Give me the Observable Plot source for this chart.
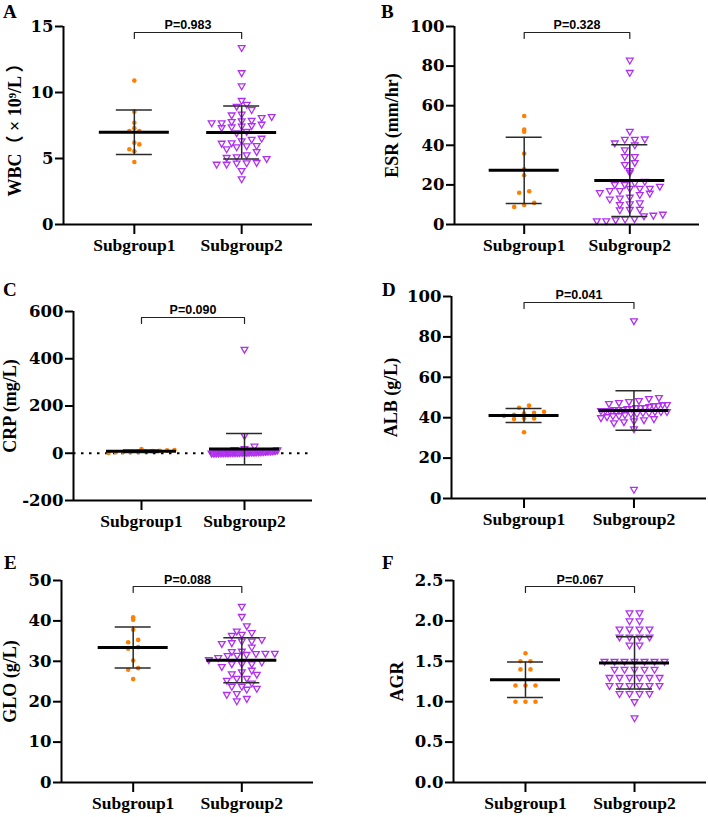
<!DOCTYPE html>
<html><head><meta charset="utf-8">
<script src="https://cdn.jsdelivr.net/npm/d3@7"></script>
<script src="https://cdn.jsdelivr.net/npm/@observablehq/plot@0.6"></script>
<style>
body{margin:0;background:#fff;}
#fig{position:relative;width:708px;height:817px;overflow:hidden;background:#fff;}
.panel{position:absolute;}
.letter{position:absolute;font-family:"Liberation Serif","Times New Roman",serif;font-weight:bold;font-size:19px;line-height:1;color:#000;}
</style></head><body><div id="fig"></div>
<script>
// ---------- data ----------
const groups = ["Subgroup1", "Subgroup2"];
const panelLetters = ["A", "B", "C", "D", "E", "F"];
const yTitles = ["WBC（ × 10⁹/L ）", "ESR (mm/hr)", "CRP (mg/L)", "ALB (g/L)", "GLO (g/L)", "AGR"];
const pLabels = ["P=0.983", "P=0.328", "P=0.090", "P=0.041", "P=0.088", "P=0.067"];

const wbcTicks = [0, 5, 10, 15];
const esrTicks = [0, 20, 40, 60, 80, 100];
const crpTicks = [-200, 0, 200, 400, 600];
const albTicks = [0, 20, 40, 60, 80, 100];
const gloTicks = [0, 10, 20, 30, 40, 50];
const agrTicks = [0, 0.5, 1.0, 1.5, 2.0, 2.5];

const wbc1 = [10.9, 8.55, 7.7, 7.3, 7.08, 7.08, 6.2, 6.07, 5.7, 5.55, 4.74];
const wbc2 = [13.4, 11.5, 10.5, 9.4, 9.1, 8.96, 8.7, 8.36, 8.3, 8.18, 8.1, 7.9, 7.85, 7.8, 7.7, 7.7, 7.6, 7.5, 7.45, 7.4, 7.35, 7.05, 6.95, 6.54, 6.46, 6.34, 6.19, 6.16, 5.98, 5.96, 5.88, 5.73, 5.53, 5.28, 5.13, 5.08, 5.0, 4.7, 4.67, 4.65, 4.57, 4.57, 4.09, 3.46];

const esr1 = [54.8, 47.9, 46.9, 35.8, 27.9, 24.9, 16.8, 16.0, 10.9, 9.9, 8.9];
const esr2 = [83.0, 76.8, 47.1, 43.0, 43.2, 43.0, 41.2, 40.2, 37.7, 34.3, 34.3, 31.3, 30.3, 27.2, 26.4, 21.8, 21.0, 20.2, 20.2, 19.3, 18.3, 18.3, 18.3, 17.1, 17.1, 16.1, 15.8, 15.1, 13.3, 13.8, 12.8, 10.4, 10.9, 10.1, 7.7, 7.4, 7.6, 4.4, 4.7, 5.2, 1.9, 2.7, 2.4, 2.9, 1.9];

const crp1 = [5, 18, 10, 14, 1, 12, 6, 8, 5, 4, 9];
const crp2 = [440, 75, 30, 20, 16, 14, 12, 11, 10, 9, 9, 8, 8, 7, 7, 6, 6, 6, 5, 5, 5, 5, 4, 4, 4, 4, 4, 3, 3, 3, 3, 3, 3, 2, 2, 2, 2, 2, 2, 1, 1, 1, 1, 1];

const alb1 = [46.0, 44.9, 42.9, 42.4, 42.1, 41.4, 40.9, 39.6, 39.6, 39.3, 32.8];
const alb2 = [88, 4.5, 50, 49.5, 48.5, 48, 47.5, 47, 46.5, 46.5, 46, 46, 45.5, 45, 45, 45, 44.5, 44.5, 44, 44, 44, 43.5, 43.5, 43.5, 43, 43, 43, 42.5, 42.5, 42, 42, 41.5, 41, 41, 40.5, 40, 39.5, 39, 38.5, 38, 37.5, 34.5];

const glo1 = [40.9, 40.3, 37.8, 35.3, 34.7, 33.5, 33.1, 30.2, 27.9, 28.3, 25.6];
const glo2 = [43.6, 41.1, 38.8, 37.5, 37.1, 36.7, 36.4, 35.4, 34.6, 35.0, 35.0, 34.4, 33.5, 32.5, 32.4, 32.0, 32.0, 31.9, 31.5, 31.7, 30.9, 31.4, 30.4, 29.8, 29.4, 29.4, 29.4, 28.7, 26.9, 26.8, 27.4, 27.8, 25.3, 25.8, 25.8, 24.6, 23.3, 23.8, 23.1, 23.8, 21.8, 22.0, 20.8, 20.2];

const agr1 = [1.6, 1.5, 1.5, 1.4, 1.4, 1.2, 1.2, 1.2, 1.0, 1.0, 1.0];
const agr2 = [2.1, 2.1, 2.0, 2.0, 1.9, 1.9, 1.9, 1.9, 1.8, 1.8, 1.8, 1.8, 1.7, 1.7, 1.5, 1.5, 1.5, 1.5, 1.5, 1.5, 1.5, 1.4, 1.4, 1.4, 1.4, 1.4, 1.3, 1.3, 1.3, 1.3, 1.3, 1.3, 1.2, 1.2, 1.2, 1.2, 1.2, 1.2, 1.1, 1.1, 1.1, 1.1, 1.0, 0.8];

// ---------- layout / style ----------
const ORANGE = "#FF8000", PURPLE = "#B030F0";
const XDOM = [0.34, 2.66];
const panels = [
  {g1: wbc1, g2: wbc2, ticks: wbcTicks, left: 0,   top: 0,   h: 270, m: [26, 42, 46, 63],  tdx: -48, lx: 3,  ly: 2, pdy: -2},
  {g1: esr1, g2: esr2, ticks: esrTicks, left: 354, top: 0,   h: 270, m: [26, 9, 46, 100],  tdx: -62, lx: 27, ly: 2, pdy: -2},
  {g1: crp1, g2: crp2, ticks: crpTicks, left: 0,   top: 270, h: 270, m: [41, 42, 40, 73],  tdx: -63, lx: 3,  ly: 10, pdy: -2},
  {g1: alb1, g2: alb2, ticks: albTicks, left: 354, top: 270, h: 270, m: [26, 2, 42, 97],   tdx: -60, lx: 28, ly: 10, pdy: -2},
  {g1: glo1, g2: glo2, ticks: gloTicks, left: 0,   top: 540, h: 277, m: [40, 41, 35, 61],  tdx: -51, lx: 4,  ly: 13, pdy: -1},
  {g1: agr1, g2: agr2, ticks: agrTicks, left: 354, top: 540, h: 277, m: [40, 2, 35, 99],   tdx: -56, lx: 28, ly: 13, pdy: -1, fmt: d3.format(".1f")}
];

function scatterLayout(values, g, pxPerY, pxPerX) {
  const binPx = 7, stepPx = 10, maxHalf = 33;
  const bins = d3.group(values.map(v => ({v})), d => Math.round(d.v * pxPerY / binPx));
  const out = [];
  for (const [, arr] of bins) {
    arr.sort((a, b) => a.v - b.v);
    const k = arr.length;
    const step = k > 1 ? Math.min(stepPx, 2 * maxHalf / (k - 1)) : stepPx;
    arr.forEach((d, j) => out.push({x: g + (j - (k - 1) / 2) * step / pxPerX, y: d.v, g}));
  }
  return out;
}

const fig = document.getElementById("fig");
panels.forEach((p, i) => {
  const W = 354;
  const [mt, mr, mb, ml] = p.m;
  const ymin = p.ticks[0], ymax = p.ticks[p.ticks.length - 1];
  const plotH = p.h - mt - mb, plotW = W - ml - mr;
  const pxPerY = plotH / (ymax - ymin);
  const pxPerX = plotW / (XDOM[1] - XDOM[0]);
  const pts1 = scatterLayout(p.g1, 1, pxPerY, pxPerX);
  const pts2 = scatterLayout(p.g2, 2, pxPerY, pxPerX);
  const stats = [p.g1, p.g2].map((vals, k) => ({g: k + 1, m: d3.mean(vals), s: d3.deviation(vals)}));
  const meanHalf = 35 / pxPerX, capHalf = 18 / pxPerX;
  const unitY = 1 / pxPerY;
  const yb = ymax - 6 * unitY, yl = ymax - 12 * unitY;
  const bracket = [{x: 1, y: yl}, {x: 1, y: yb}, {x: 2, y: yb}, {x: 2, y: yl}];

  const marks = [];
  if (ymin < 0) marks.push(Plot.ruleY([0], {stroke: "#000", strokeWidth: 2, strokeDasharray: "2.5,5.5"}));
  marks.push(
    Plot.dot(pts1, {x: "x", y: "y", r: 2.3, fill: ORANGE, stroke: "none"}),
    Plot.dot(pts2, {x: "x", y: "y", r: 2.5, symbol: "triangle", rotate: 180, stroke: PURPLE, strokeWidth: 1.3, fill: "none"}),
    Plot.ruleX(stats, {x: "g", y1: d => d.m - d.s, y2: d => d.m + d.s, stroke: "#2a2a2a", strokeWidth: 1.5}),
    Plot.ruleY(stats, {y: d => d.m + d.s, x1: d => d.g - capHalf, x2: d => d.g + capHalf, stroke: "#2a2a2a", strokeWidth: 1.5}),
    Plot.ruleY(stats, {y: d => d.m - d.s, x1: d => d.g - capHalf, x2: d => d.g + capHalf, stroke: "#2a2a2a", strokeWidth: 1.5}),
    Plot.ruleY(stats, {y: "m", x1: d => d.g - meanHalf, x2: d => d.g + meanHalf, stroke: "#000", strokeWidth: 3}),
    Plot.line(bracket, {x: "x", y: "y", stroke: "#222", strokeWidth: 1.2}),
    Plot.text([pLabels[i]], {x: 1.5, y: ymax, dy: p.pdy, text: d => d, fontFamily: "Liberation Sans, Arial, sans-serif", fontWeight: "bold", fontSize: 12.5, textAnchor: "middle", lineAnchor: "middle", fill: "#000"}),
    Plot.ruleX([XDOM[0]], {y1: ymin, y2: ymax, stroke: "#000", strokeWidth: 2}),
    Plot.ruleY([ymin], {x1: XDOM[0], x2: XDOM[1], stroke: "#000", strokeWidth: 2}),
    Plot.axisY({ticks: p.ticks, tickSize: 8, tickPadding: 2, tickFormat: p.fmt || (d => String(d)), fontFamily: "DejaVu Serif, serif", fontWeight: "bold", fontSize: 16.5, strokeWidth: 2, label: null}),
    Plot.axisX({ticks: [1, 2], tickSize: 10, tickPadding: 4, tickFormat: d => groups[d - 1], fontFamily: "Liberation Serif, serif", fontWeight: "bold", fontSize: 17.5, strokeWidth: 2, label: null}),
    Plot.text([yTitles[i]], {frameAnchor: "left", rotate: -90, dx: p.tdx, text: d => d, textAnchor: "middle", lineAnchor: "middle", fontFamily: "Liberation Serif, 'Noto Sans CJK SC', serif", fontWeight: "bold", fontSize: 18, fill: "#000"})
  );

  const chart = Plot.plot({
    width: W, height: p.h,
    marginTop: mt, marginRight: mr, marginBottom: mb, marginLeft: ml,
    x: {domain: XDOM, axis: null},
    y: {domain: [ymin, ymax], axis: null},
    style: {background: "white", overflow: "visible", color: "#000"},
    marks
  });
  const div = document.createElement("div");
  div.className = "panel";
  div.style.left = p.left + "px";
  div.style.top = p.top + "px";
  div.appendChild(chart);
  const L = document.createElement("div");
  L.className = "letter";
  L.textContent = panelLetters[i];
  L.style.left = p.lx + "px";
  L.style.top = p.ly + "px";
  div.appendChild(L);
  fig.appendChild(div);
});
</script></body></html>
